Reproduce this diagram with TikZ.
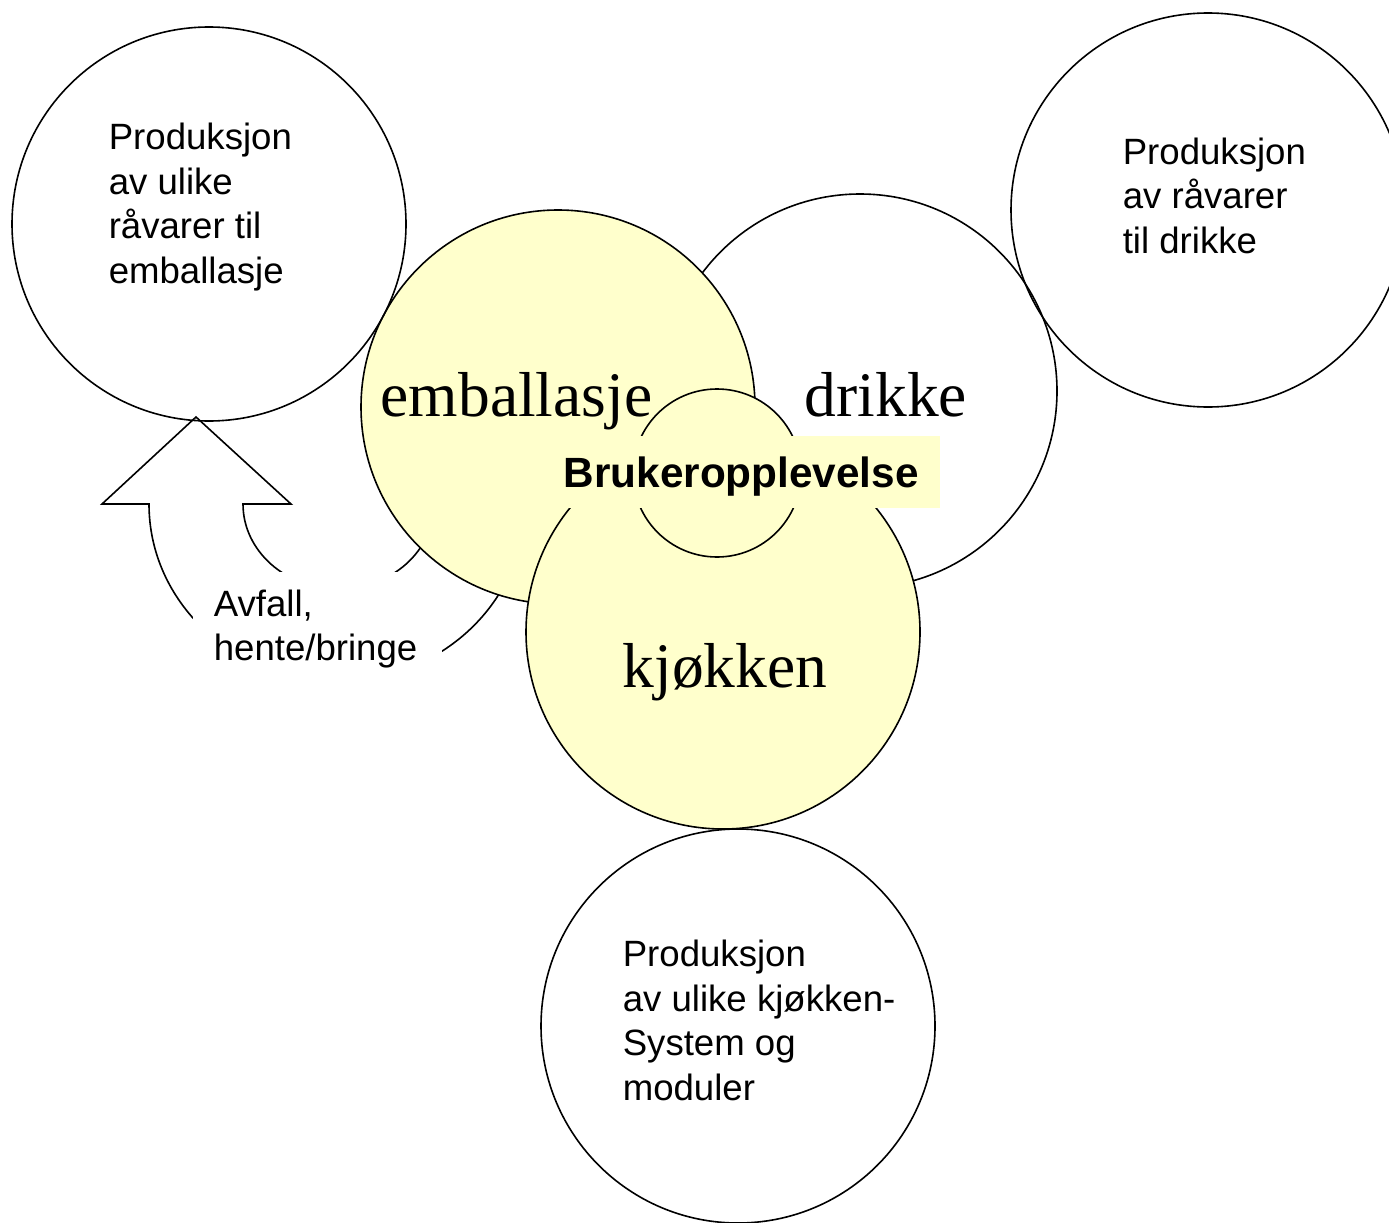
\documentclass[tikz,border=0pt]{standalone}
\usepackage{fontspec}
\setmainfont{Liberation Serif}
\newfontfamily\arialf{Liberation Sans}
\definecolor{paleyellow}{HTML}{FFFFCC}
\begin{document}
\begin{tikzpicture}[x=1pt,y=-1pt,line width=1.6pt,
  ring/.style={circle, draw=black, line width=1.6pt, minimum size=394pt, inner sep=0pt},
  ringy/.style={ring, fill=paleyellow},
  smalltext/.style={font=\arialf\fontsize{36.6pt}{44.5pt}\selectfont, align=left, anchor=base west, inner sep=0pt},
  bigtext/.style={font=\fontsize{63.5pt}{70pt}\selectfont, anchor=base west, inner sep=0pt}]
\path[use as bounding box] (0,0) rectangle (1389,1223);
\fill[white] (0,0) rectangle (1389,1223);
\begin{scope}
\clip (0,0) rectangle (1389,1223);
% curved block arrow
\draw[fill=white, line join=miter] (102,504) -- (196,417) -- (291,504) -- (243,504)
  arc[start angle=180, end angle=360, x radius=95.5pt, y radius=85pt] -- (525,504)
  arc[start angle=0, end angle=-180, x radius=188pt, y radius=177.4pt] -- cycle;
\fill[white] (193,572) rectangle (442,690);
% circles
\node[ring, fill=white] (drink) at (860,391) {};
\node[ringy] (pack) at (558,407) {};
\node[ringy] (kitchen) at (723,632) {};
\node[circle, draw=black, fill=paleyellow, minimum size=168pt, inner sep=0pt] (core) at (717,473) {};
\node[fill=paleyellow, font=\arialf\bfseries\fontsize{42.3pt}{50pt}\selectfont, anchor=base west,
  inner xsep=10pt, inner ysep=0pt, text height=51pt, text depth=21pt, text width=366pt, align=left]
  (user) at (553,487) {Brukeropplevelse};
\node[ring] (rawpack) at (209,224) {};
\node[ring] (rawdrink) at (1208,210) {};
\node[ring] (rawkitchen) at (738,1026) {};
% texts (anchor = baseline of the last line)
\node[smalltext] (t1) at (108,283) {Produksjon\\av ulike\\råvarer til\\emballasje};
\node[smalltext] (t2) at (1122,253) {Produksjon\\av råvarer\\til drikke};
\node[smalltext] (t3) at (622,1100) {Produksjon\\av ulike kjøkken-\\System og\\moduler};
\node[smalltext, font=\arialf\fontsize{36.6pt}{43.5pt}\selectfont] (t4) at (213,660) {Avfall,\\hente/bringe};
\node[bigtext] (l1) at (380,416) {emballasje};
\node[bigtext] (l2) at (804,416) {drikke};
\node[bigtext] (l3) at (622,687) {kjøkken};
\end{scope}
\end{tikzpicture}
\end{document}
